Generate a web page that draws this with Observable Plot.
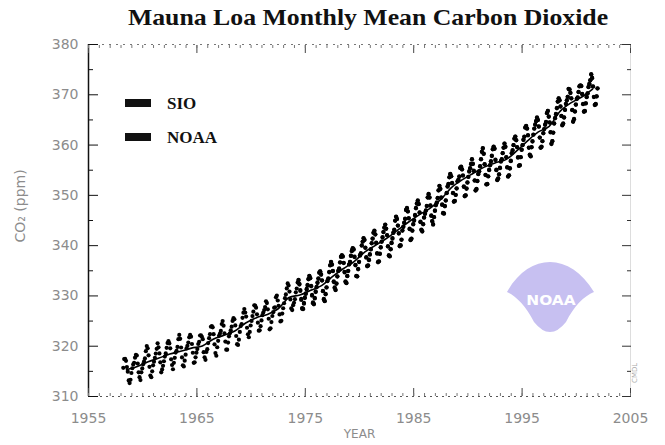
<!DOCTYPE html>
<html>
<head>
<meta charset="utf-8">
<script src="https://cdn.jsdelivr.net/npm/d3@7"></script>
<script src="https://cdn.jsdelivr.net/npm/@observablehq/plot@0.6"></script>
<style>
  html, body { margin: 0; padding: 0; background: #fff; }
  #wrap { position: relative; width: 665px; height: 445px; overflow: hidden; background: #fff; }
  #title { position: absolute; top: 5px; left: 368px; white-space: nowrap;
    font: bold 23px "Liberation Serif", "Times New Roman", serif; line-height: 26px; color: #111;
    transform: translateX(-50%) scaleX(1.12); }
  #chart { position: absolute; top: 32px; left: 0; }
  .lg-sw { position: absolute; left: 125px; width: 26px; height: 8px; background: #111; }
  .lg-tx { position: absolute; left: 167px; font: bold 17px "Liberation Serif", serif; line-height: 18px; color: #111; }
  #logo { position: absolute; left: 0; top: 0; }
  #corner { position: absolute; left: 631px; top: 383px; font: 7px "DejaVu Sans", sans-serif; color: #aaa;
    transform: rotate(-90deg); transform-origin: left top; }
</style>
</head>
<body>
<div id="wrap">
  <div id="title">Mauna Loa Monthly Mean Carbon Dioxide</div>
  <div id="chart"></div>
  <svg id="logo" width="665" height="445">
    <path d="M507,292 C518,272 534,262 550,262 C566,262 582,272 594,292 C584,296 574,306 566,322 Q550,342 534,322 C526,306 516,296 507,292 Z" fill="#c7c0f1"/>
    <text x="551" y="305" text-anchor="middle" fill="#fff" font-family="DejaVu Sans" font-weight="bold" font-size="14" transform="translate(551,0) scale(1.1,1) translate(-551,0)">NOAA</text>
  </svg>
  <div class="lg-sw" style="top:99px"></div>
  <div class="lg-tx" style="top:95px">SIO</div>
  <div class="lg-sw" style="top:133px"></div>
  <div class="lg-tx" style="top:129px">NOAA</div>
  <div id="corner">CMDL</div>
</div>
<script>
// ---- data (ppm), monthly means ----
const sioStart = [1958, 3]; // year, month of first value
const sioValues = [
  315.71,317.45,317.50,317.10,315.86,314.93,313.20,312.66,313.33,314.67,
  315.62,316.38,316.71,317.72,318.29,318.15,316.54,314.80,313.84,313.26,314.80,315.58,
  316.43,316.97,317.58,319.02,320.03,319.59,318.18,315.91,314.16,313.83,315.00,316.19,
  316.93,317.70,318.54,319.48,320.58,319.77,318.57,316.79,314.80,315.38,316.10,317.01,
  317.94,318.56,319.68,320.63,321.01,320.55,319.58,317.40,316.26,315.42,316.69,317.69,
  318.74,319.08,319.86,321.39,322.25,321.47,319.74,317.77,316.21,315.99,317.12,318.31,
  319.57,320.07,320.73,321.77,322.25,321.89,320.44,318.70,316.70,316.79,317.79,318.71,
  319.44,320.44,320.89,322.13,322.16,321.87,321.39,318.81,317.81,317.30,318.87,319.42,
  320.62,321.59,322.39,323.87,324.01,323.75,322.39,320.37,318.64,318.10,319.79,321.08,
  322.07,322.50,323.04,324.42,325.00,324.09,322.55,320.92,319.31,319.31,320.72,321.96,
  322.57,323.15,323.89,325.02,325.57,325.36,324.14,322.03,320.41,320.25,321.31,322.84,
  324.00,324.42,325.64,326.66,327.38,326.70,325.89,323.67,322.38,321.78,322.85,324.12,
  325.03,325.99,326.87,328.13,328.07,327.66,326.35,324.69,323.10,323.16,323.98,325.13,
  326.17,326.68,327.18,327.78,328.92,328.57,327.34,325.46,323.36,323.57,324.80,326.01,
  326.77,327.63,327.75,329.72,330.07,329.09,328.05,326.32,324.93,325.06,326.50,327.55,
  328.54,329.56,330.30,331.50,332.48,332.07,330.87,329.31,327.51,327.18,328.16,328.64,
  329.35,330.71,331.48,332.65,333.09,332.25,331.18,329.40,327.43,327.37,328.46,329.57,
  330.40,331.40,332.04,333.31,333.96,333.59,331.91,330.06,328.56,328.34,329.49,330.76,
  331.75,332.56,333.50,334.58,334.87,334.34,333.05,330.94,329.30,328.94,330.31,331.68,
  332.93,333.42,334.70,336.07,336.74,336.27,334.93,332.75,331.58,331.16,332.40,333.85,
  334.97,335.39,336.64,337.76,338.01,337.89,336.54,334.68,332.76,332.54,333.92,334.95,
  336.23,336.76,337.96,338.89,339.47,339.29,337.73,336.09,333.91,333.86,335.29,336.73,
  338.01,338.36,340.08,340.77,341.46,341.17,339.56,337.60,335.88,336.01,337.10,338.21,
  339.23,340.47,341.38,342.51,342.91,342.25,340.49,338.43,336.69,336.85,338.36,339.61,
  340.75,341.61,342.70,343.56,344.13,343.35,342.06,339.82,337.97,337.86,339.26,340.49,
  341.38,342.52,343.10,344.94,345.75,345.32,343.99,342.39,339.86,339.99,341.16,342.99,
  343.70,344.51,345.28,347.08,347.43,346.79,345.40,343.28,341.07,341.35,342.98,344.22,
  344.97,346.00,347.43,348.35,348.93,348.25,346.56,344.67,343.09,342.80,344.24,345.56,
  346.29,346.96,347.86,349.55,350.21,349.54,347.94,345.91,344.86,344.17,345.66,346.90,
  348.02,348.47,349.42,350.99,351.84,351.25,349.52,348.10,346.44,346.36,347.81,348.96,
  350.43,351.72,352.22,353.59,354.22,353.79,352.39,350.44,348.72,348.88,350.07,351.34,
  352.76,353.07,353.68,355.42,355.67,355.13,353.90,351.67,349.80,349.99,351.30,352.53,
  353.66,354.70,355.39,356.20,357.16,356.22,354.82,352.91,350.96,351.18,352.83,354.21,
  354.72,355.75,357.16,358.60,359.34,358.24,356.17,354.03,352.16,352.21,353.75,354.99,
  355.98,356.72,357.81,359.15,359.66,359.25,357.02,355.00,353.01,353.31,354.16,355.40,
  356.70,357.17,358.38,359.46,360.28,359.60,357.57,355.52,353.70,353.98,355.33,356.80,
  358.36,358.91,359.97,361.26,361.68,360.95,359.55,357.49,355.84,355.99,357.58,359.04,
  359.97,361.00,361.64,363.45,363.79,363.26,361.90,359.46,358.06,357.75,359.56,360.70,
  362.05,363.25,364.03,364.72,365.41,364.97,363.65,361.49,359.46,359.60,360.76,362.33,
  363.18,364.00,364.57,366.35,366.79,365.62,364.47,362.51,360.19,360.77,362.43,364.28,
  365.32,366.15,367.31,368.61,369.29,368.87,367.64,365.77,363.90,364.23,365.46,366.97,
  368.15,368.87,369.59,371.14,371.00,370.35,369.27,366.94,364.63,365.12,366.67,368.01,
  369.14,369.46,370.52,371.66,371.82,371.70,370.12,368.12,366.62,366.73,368.29,369.53,
  370.28,371.50,372.12,372.87,374.02,373.30,371.62,369.55,367.96,368.09,369.68,371.24
];
const noaaStart = [1974, 5];
const noaaValues = [
  333.2,332.4,331.0,329.2,327.6,327.5,328.6,329.7,
  330.5,331.3,332.2,333.4,334.0,333.5,332.0,330.2,328.7,328.4,329.6,330.9,
  331.8,332.7,333.4,334.7,334.9,334.2,333.1,331.0,329.4,329.0,330.4,331.7,
  333.0,333.5,334.8,336.1,336.8,336.2,335.0,332.9,331.7,331.2,332.5,333.9,
  335.0,335.5,336.7,337.8,338.1,337.8,336.6,334.8,332.9,332.6,334.0,335.0,
  336.3,336.8,338.0,339.0,339.5,339.2,337.8,336.2,334.0,333.9,335.4,336.8,
  338.1,338.5,340.0,340.8,341.5,341.1,339.6,337.7,336.0,336.1,337.2,338.3,
  339.3,340.5,341.4,342.6,343.0,342.2,340.6,338.5,336.8,336.9,338.4,339.7,
  340.8,341.7,342.7,343.6,344.2,343.4,342.1,339.9,338.1,337.9,339.3,340.6,
  341.5,342.6,343.2,345.0,345.8,345.3,344.0,342.5,340.0,340.1,341.2,343.0,
  343.8,344.6,345.4,347.1,347.5,346.8,345.5,343.4,341.2,341.4,343.0,344.3,
  345.1,346.1,347.5,348.4,349.0,348.3,346.6,344.8,343.2,342.9,344.3,345.6,
  346.4,347.0,347.9,349.6,350.3,349.6,348.0,346.0,344.9,344.3,345.7,347.0,
  348.1,348.6,349.5,351.0,351.9,351.3,349.6,348.2,346.5,346.4,347.9,349.0,
  350.5,351.8,352.3,353.6,354.3,353.8,352.5,350.5,348.8,348.9,350.1,351.4,
  352.8,353.1,353.8,355.5,355.7,355.2,354.0,351.8,349.9,350.0,351.4,352.6,
  353.7,354.8,355.4,356.3,357.2,356.3,354.9,353.0,351.0,351.3,352.9,354.3,
  354.8,355.8,357.2,358.7,359.4,358.3,356.2,354.1,352.2,352.3,353.8,355.1,
  356.0,356.8,357.9,359.2,359.7,359.3,357.1,355.1,353.1,353.4,354.2,355.5,
  356.8,357.2,358.4,359.5,360.3,359.7,357.6,355.6,353.8,354.0,355.4,356.9,
  358.4,359.0,360.0,361.3,361.7,361.0,359.6,357.6,355.9,356.0,357.6,359.1,
  360.0,361.1,361.7,363.5,363.8,363.3,362.0,359.5,358.1,357.8,359.6,360.8,
  362.1,363.3,364.1,364.8,365.5,365.0,363.7,361.5,359.5,359.7,360.8,362.4,
  363.2,364.1,364.6,366.4,366.8,365.7,364.5,362.6,360.3,360.8,362.5,364.3,
  365.4,366.2,367.4,368.7,369.3,368.9,367.7,365.8,364.0,364.3,365.5,367.0,
  368.2,368.9,369.6,371.2,371.1,370.4,369.3,367.0,364.7,365.2,366.7,368.1,
  369.2,369.5,370.6,371.7,371.9,371.8,370.2,368.2,366.7,366.8,368.3,369.6,
  370.3,371.6,372.2,372.9,374.1,373.4,371.7,369.6,368.0,368.2,369.7,371.3
];
// annual means (trend line)
const trendYears = [1958,1959,1960,1961,1962,1963,1964,1965,1966,1967,1968,1969,1970,1971,1972,1973,1974,1975,1976,1977,1978,1979,1980,1981,1982,1983,1984,1985,1986,1987,1988,1989,1990,1991,1992,1993,1994,1995,1996,1997,1998,1999,2000,2001];
const trendValues = [315.33,315.98,316.91,317.64,318.45,318.99,319.62,320.04,321.38,322.16,323.04,324.62,325.68,326.32,327.45,329.68,330.18,331.11,332.04,333.83,335.40,336.84,338.75,340.11,341.45,343.05,344.65,346.12,347.42,349.19,351.57,353.12,354.39,355.61,356.45,357.10,358.83,360.82,362.61,363.73,366.70,368.38,369.55,371.14];
// axes
const xDomain = [1955, 2005];
const yDomain = [310, 380];
const xMajor = [1955, 1965, 1975, 1985, 1995, 2005];
const xMinor = d3.range(1955, 2006, 1);
const yMajor = [310, 320, 330, 340, 350, 360, 370, 380];
const yMinor = [315, 325, 335, 345, 355, 365, 375];

function monthly(start, values, series) {
  return values.map((v, i) => {
    const m = start[1] - 1 + i;
    return { date: start[0] + (m + 0.5) / 12, co2: v, series };
  });
}
const points = [...monthly(sioStart, sioValues, "SIO"), ...monthly(noaaStart, noaaValues, "NOAA")];
const trend = trendYears.map((y, i) => ({ date: y + 0.5, co2: trendValues[i] }));

const gray = "#8c8c8c";
const noLbl = { label: null, tickFormat: () => "" };
const chart = Plot.plot({
  width: 665,
  height: 413,
  marginTop: 12,
  marginBottom: 49,
  marginLeft: 88,
  marginRight: 35,
  style: { fontFamily: "DejaVu Sans, sans-serif", fontSize: "14px", background: "white", overflow: "visible" },
  x: { domain: xDomain, label: null },
  y: { domain: yDomain, label: null },
  marks: [
    // frame
    Plot.ruleY([yDomain[1]], { stroke: "#777", strokeDasharray: "2,5" }),
    Plot.ruleY([yDomain[0]], { stroke: "#555", strokeDasharray: "2,4" }),
    Plot.ruleX([xDomain[1]], { stroke: "#ddd" }),
    Plot.ruleX([xDomain[0]], { stroke: "#111", strokeWidth: 1.5 }),
    // ticks (inward)
    Plot.axisY(yMajor, { ...noLbl, anchor: "left", tickSize: -10, stroke: "#111" }),
    Plot.axisY(yMinor, { ...noLbl, anchor: "left", tickSize: -5, stroke: "#111" }),
    Plot.axisY(yMajor, { ...noLbl, anchor: "right", tickSize: -9, stroke: "#333" }),
    Plot.axisY(yMinor, { ...noLbl, anchor: "right", tickSize: -4, stroke: "#333" }),
    Plot.axisX(xMajor, { ...noLbl, anchor: "bottom", tickSize: -8, stroke: "#444" }),
    Plot.axisX(xMinor, { ...noLbl, anchor: "bottom", tickSize: -3, stroke: "#777" }),
    Plot.axisX(xMajor, { ...noLbl, anchor: "top", tickSize: -8, stroke: "#444" }),
    Plot.axisX(xMinor, { ...noLbl, anchor: "top", tickSize: -3, stroke: "#777" }),
    // tick labels
    Plot.axisY(yMajor, { anchor: "left", tickSize: 0, tickPadding: 10, tickFormat: d => String(d), fill: gray, label: null }),
    Plot.axisX(xMajor, { anchor: "bottom", tickSize: 0, tickPadding: 17, tickFormat: d => String(d), fill: gray, label: null }),
    // axis titles
    Plot.text(["YEAR"], { text: d => d, frameAnchor: "bottom", dy: 41, fill: gray, fontSize: 12 }),
    Plot.text(["CO\u2082 (ppm)"], { text: d => d, frameAnchor: "left", dx: -68, dy: 22, rotate: -90, fill: gray, fontSize: 14 }),
    // data
    Plot.dot(points, { x: "date", y: "co2", r: 2.1, fill: "#000", stroke: null }),
    Plot.line(trend, { x: "date", y: "co2", stroke: "#000", strokeWidth: 1.6, curve: "catmull-rom" })
  ]
});
document.getElementById("chart").appendChild(chart);
</script>
</body>
</html>
